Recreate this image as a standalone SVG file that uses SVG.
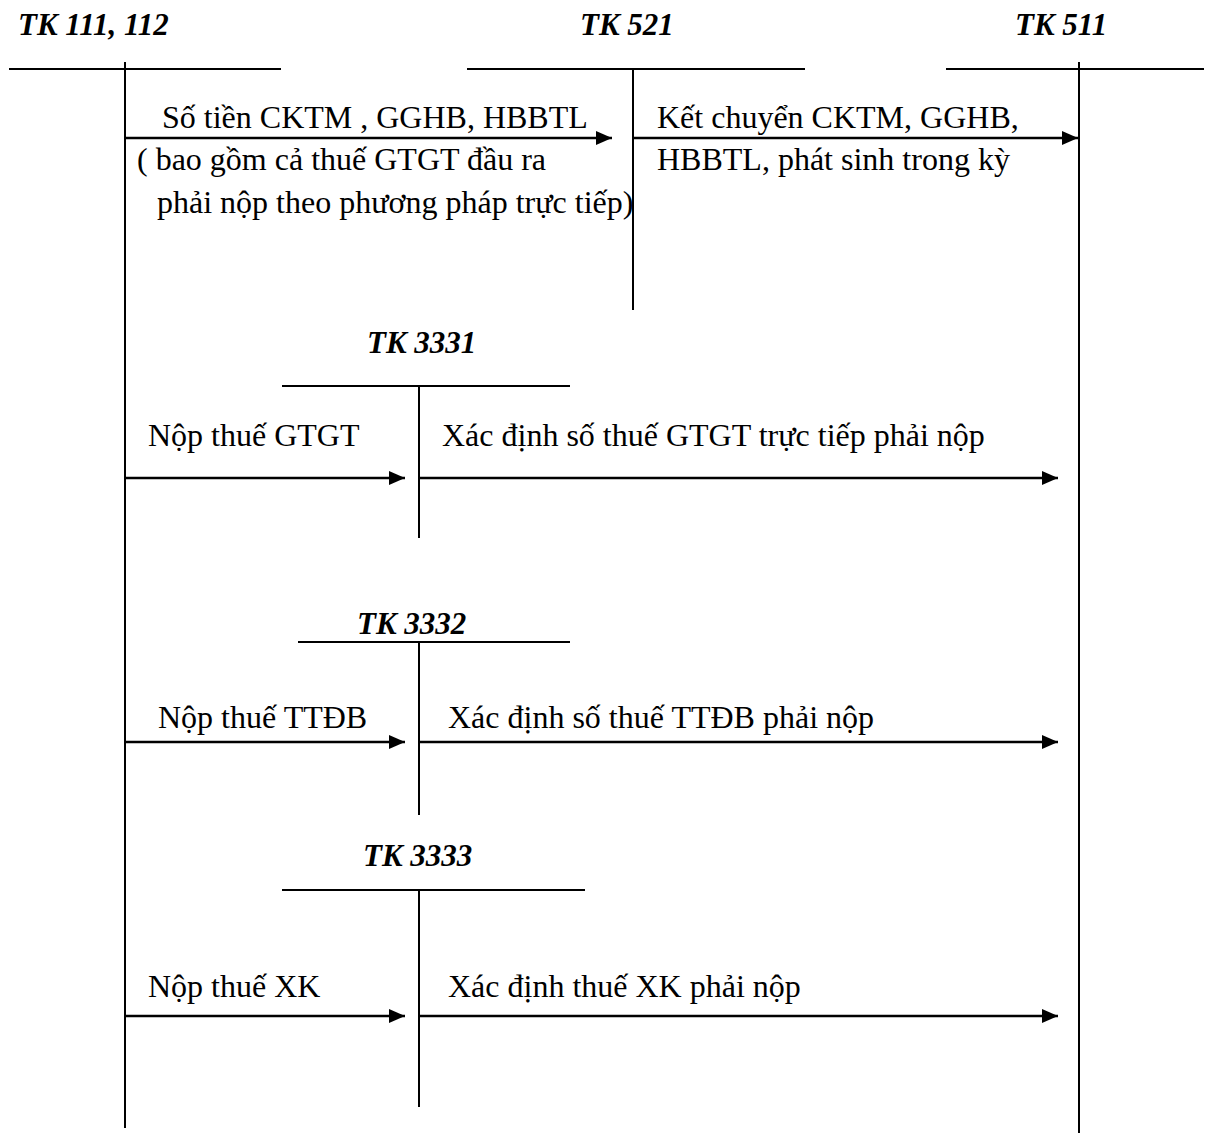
<svg xmlns="http://www.w3.org/2000/svg" width="1208" height="1133" viewBox="0 0 1208 1133">
<style>
.ln{stroke:#000;stroke-width:2;fill:none}
.ar{stroke:#000;stroke-width:2.5;fill:none;marker-end:url(#ah)}
.tt{font-family:"Liberation Serif",serif;font-weight:bold;font-style:italic;font-size:31px;fill:#000}
.tx{font-family:"Liberation Serif",serif;font-size:32px;fill:#000}
</style>
<defs>
<marker id="ah" markerUnits="userSpaceOnUse" markerWidth="18" markerHeight="16" refX="16" refY="7" orient="auto">
<path d="M0,0 L16,7 L0,14 Z" fill="#000"/>
</marker>
</defs>
<rect width="1208" height="1133" fill="#fff"/>
<g id="tk111">
<text class="tt" x="18" y="35">TK 111, 112</text>
<line class="ln" x1="9" y1="69" x2="281" y2="69"/>
<line class="ln" x1="125" y1="62" x2="125" y2="1128"/>
</g>
<g id="tk521">
<text class="tt" x="580" y="35">TK 521</text>
<line class="ln" x1="467" y1="69" x2="805" y2="69"/>
<line class="ln" x1="633" y1="69" x2="633" y2="310"/>
</g>
<g id="tk511">
<text class="tt" x="1015" y="35">TK 511</text>
<line class="ln" x1="946" y1="69" x2="1204" y2="69"/>
<line class="ln" x1="1079" y1="62" x2="1079" y2="1133"/>
</g>
<g id="tk3331">
<text class="tt" x="367" y="353">TK 3331</text>
<line class="ln" x1="282" y1="386" x2="570" y2="386"/>
<line class="ln" x1="419" y1="386" x2="419" y2="538"/>
</g>
<g id="tk3332">
<text class="tt" x="357" y="634">TK 3332</text>
<line class="ln" x1="298" y1="642" x2="570" y2="642"/>
<line class="ln" x1="419" y1="642" x2="419" y2="815"/>
</g>
<g id="tk3333">
<text class="tt" x="363" y="866">TK 3333</text>
<line class="ln" x1="282" y1="890" x2="585" y2="890"/>
<line class="ln" x1="419" y1="890" x2="419" y2="1107"/>
</g>
<g id="connectors">
<line class="ar" x1="125" y1="138" x2="612" y2="138"/>
<line class="ar" x1="633" y1="138" x2="1078" y2="138"/>
<line class="ar" x1="125" y1="478" x2="405" y2="478"/>
<line class="ar" x1="419" y1="478" x2="1058" y2="478"/>
<line class="ar" x1="125" y1="742" x2="405" y2="742"/>
<line class="ar" x1="419" y1="742" x2="1058" y2="742"/>
<line class="ar" x1="125" y1="1016" x2="405" y2="1016"/>
<line class="ar" x1="419" y1="1016" x2="1058" y2="1016"/>
</g>
<g id="labels">
<text class="tx" x="162" y="128">Số tiền CKTM , GGHB, HBBTL</text>
<text class="tx" x="137" y="170">( bao gồm cả thuế GTGT đầu ra</text>
<text class="tx" x="157" y="213">phải nộp theo phương pháp trực tiếp)</text>
<text class="tx" x="657" y="128">Kết chuyển CKTM, GGHB,</text>
<text class="tx" x="657" y="170">HBBTL, phát sinh trong kỳ</text>
<text class="tx" x="148" y="446">Nộp thuế GTGT</text>
<text class="tx" x="442" y="446">Xác định số thuế GTGT trực tiếp phải nộp</text>
<text class="tx" x="158" y="728">Nộp thuế TTĐB</text>
<text class="tx" x="448" y="728">Xác định số thuế TTĐB phải nộp</text>
<text class="tx" x="148" y="997">Nộp thuế XK</text>
<text class="tx" x="448" y="997">Xác định thuế XK phải nộp</text>
</g>
</svg>
